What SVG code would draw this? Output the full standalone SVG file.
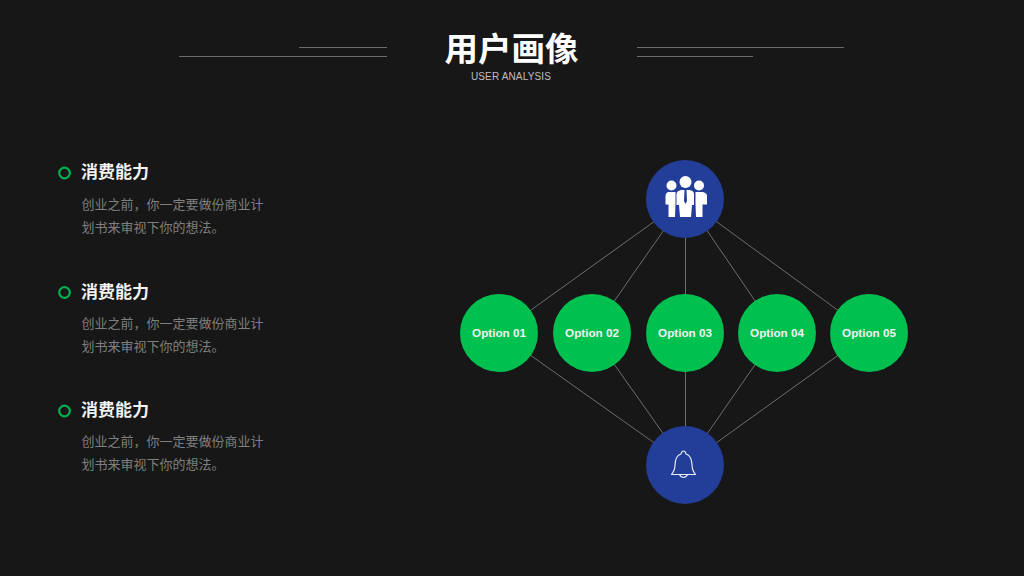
<svg xmlns="http://www.w3.org/2000/svg" width="1024" height="576" viewBox="0 0 1024 576">
<style>
.cjk{font-family:"Noto Sans CJK SC","Liberation Sans",sans-serif}
.hd{font-size:17px;font-weight:700;fill:#f2f2f2}
.bd{font-size:13px;fill:#7f7f7f}
.rule{stroke:#6b6b6b;stroke-width:1;fill:none}
.link{stroke:#6e6e6e;stroke-width:1;fill:none}
.ring{fill:none;stroke:#00b050;stroke-width:2.200}
.opt{fill:#00c050}
.optt{font-family:"Liberation Sans",Arial,sans-serif;font-size:11.700px;font-weight:700;fill:#f2f2f2;text-anchor:middle}
.hub{fill:#233e99}
.p{fill:#fff}
</style>
<rect width="1024" height="576" fill="#171717"/>
<g id="title">
<text class="cjk" x="511.500" y="60.500" font-size="33.500" font-weight="700" fill="#fff" text-anchor="middle">用户画像</text>
<text x="511" y="80" font-family="'Liberation Sans',Arial,sans-serif" font-size="10" letter-spacing="0.150" fill="#bfbfbf" text-anchor="middle">USER ANALYSIS</text>
<path class="rule" d="M299 47.500H387M179 56.500H387M637 47.500H844M637 56.500H753"/>
</g>
<g id="connectors">
<path class="link" d="M685.500 199L499 333M685.500 199L592 333M685.500 199V333M685.500 199L777 333M685.500 199L869 333M685.500 465L499 333M685.500 465L592 333M685.500 465V333M685.500 465L777 333M685.500 465L869 333"/>
</g>
<g id="item-1">
<circle class="ring" cx="64.500" cy="173" r="5.300"/>
<text class="cjk hd" x="81" y="178">消费能力</text>
<text class="cjk bd" x="81.500" y="208.500">创业之前，你一定要做份商业计</text>
<text class="cjk bd" x="81.500" y="231.500">划书来审视下你的想法。</text>
</g>
<g id="item-2">
<circle class="ring" cx="64.500" cy="292.500" r="5.300"/>
<text class="cjk hd" x="81" y="298">消费能力</text>
<text class="cjk bd" x="81.500" y="327.500">创业之前，你一定要做份商业计</text>
<text class="cjk bd" x="81.500" y="350.500">划书来审视下你的想法。</text>
</g>
<g id="item-3">
<circle class="ring" cx="64.500" cy="411" r="5.300"/>
<text class="cjk hd" x="81" y="416">消费能力</text>
<text class="cjk bd" x="81.500" y="445.500">创业之前，你一定要做份商业计</text>
<text class="cjk bd" x="81.500" y="468.500">划书来审视下你的想法。</text>
</g>
<g id="hub-top">
<circle class="hub" cx="685" cy="199" r="39"/>
<circle class="p" cx="671.500" cy="185.500" r="5"/>
<circle class="p" cx="699" cy="185.500" r="5"/>
<circle class="p" cx="685.500" cy="182" r="6"/>
<path class="p" d="M668 192H675.500V203.500L675 217H668.500V204.500H665.500V196Q665.500 193 668 192Z"/>
<path class="p" d="M703 192H695.500V203.500L696 217H702.500V204.500H707V196Q707 193 703 192Z"/>
<path class="p" d="M681 190H690Q694 191 694 194V205H692L691 217H680L679 205H676.500V194Q676.500 191 681 190Z"/>
<path d="M684.500 190H686.500L687 201L685.500 204L684 201Z" fill="#233e99"/>
</g>
<g id="hub-bottom">
<circle class="hub" cx="685" cy="465" r="39"/>
<path d="M681 454Q681.500 451 683.500 451Q685.500 451 686 454Q690.500 455.500 691.500 461L692.500 469Q693.500 472 695.500 474.500H671.500Q673.500 472 674.500 469L675.500 461Q676.500 455.500 681 454ZM679.500 474.500Q681 477.500 683.500 477.500Q686 477.500 687.500 474.500" fill="none" stroke="#e8ecf5" stroke-width="1.200" stroke-linejoin="round"/>
</g>
<g id="option-1"><circle class="opt" cx="499" cy="333" r="39"/><text class="optt" x="499" y="336.500">Option 01</text></g>
<g id="option-2"><circle class="opt" cx="592" cy="333" r="39"/><text class="optt" x="592" y="336.500">Option 02</text></g>
<g id="option-3"><circle class="opt" cx="685" cy="333" r="39"/><text class="optt" x="685" y="336.500">Option 03</text></g>
<g id="option-4"><circle class="opt" cx="777" cy="333" r="39"/><text class="optt" x="777" y="336.500">Option 04</text></g>
<g id="option-5"><circle class="opt" cx="869" cy="333" r="39"/><text class="optt" x="869" y="336.500">Option 05</text></g>
</svg>
